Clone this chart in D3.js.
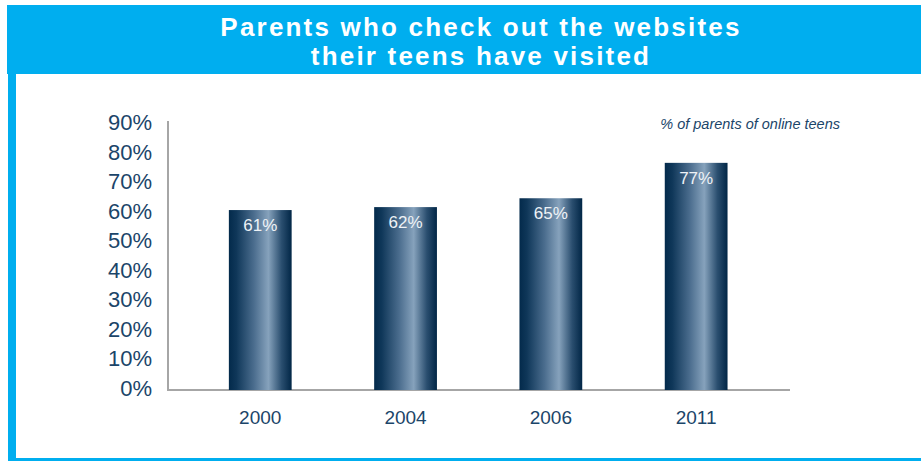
<!DOCTYPE html>
<html>
<head>
<meta charset="utf-8">
<script src="https://cdn.jsdelivr.net/npm/d3@7"></script>
<style>
  html, body { margin: 0; padding: 0; background: #fff; }
  svg { display: block; font-family: "Liberation Sans", Arial, Helvetica, sans-serif; }
</style>
</head>
<body>
<div id="chart"></div>
<script>
// data
const years = ["2000", "2004", "2006", "2011"];
const shares = [61, 62, 65, 77];
const yTicks = [0, 10, 20, 30, 40, 50, 60, 70, 80, 90];
const titleLines = ["Parents who check out the websites", "their teens have visited"];
const note = "% of parents of online teens";

const W = 921, H = 461;
const blue = "#00aeef";
const navy = "#1b4569";

const svg = d3.select("#chart").append("svg")
    .attr("width", W)
    .attr("height", H);

// gradient for the bars, dark edges with a light streak right of centre
const grad = svg.append("defs").append("linearGradient")
    .attr("id", "barGrad")
    .attr("x1", "0%").attr("x2", "100%")
    .attr("y1", "0%").attr("y2", "0%");
[[0, "#032a4b"], [0.12, "#0f3759"], [0.4, "#4b6d8e"], [0.63, "#86a2bc"], [0.84, "#2a4e6f"], [1, "#012646"]]
    .forEach(([o, c]) => grad.append("stop").attr("offset", o).attr("stop-color", c));

// frame: header band, left strip, bottom strip
svg.append("rect").attr("x", 7).attr("y", 5).attr("width", W - 7).attr("height", 69).attr("fill", blue);
svg.append("rect").attr("x", 8).attr("y", 70).attr("width", 8).attr("height", H - 70).attr("fill", blue);
svg.append("rect").attr("x", 8).attr("y", 458).attr("width", W - 8).attr("height", 3).attr("fill", blue);

svg.append("g")
    .selectAll("text")
    .data(titleLines)
    .join("text")
    .attr("x", 481)
    .attr("y", (d, i) => 36 + i * 29)
    .attr("text-anchor", "middle")
    .attr("fill", "#fff")
    .attr("font-weight", "bold")
    .attr("font-size", 26)
    .attr("letter-spacing", 2.2)
    .text(d => d);

// scales
const y = d3.scaleLinear().domain([0, 90]).range([390, 124.5]);
const x = d3.scaleBand()
    .domain(years)
    .range([187.6, 768.8])
    .paddingInner(0.568)
    .paddingOuter(0.284);

// y axis
const yAxis = d3.axisLeft(y)
    .tickValues(yTicks)
    .tickFormat(d => d + "%")
    .tickSize(0)
    .tickPadding(16);

const gy = svg.append("g")
    .attr("transform", "translate(168,0)")
    .call(yAxis);
gy.select(".domain").remove();
gy.selectAll("text")
    .attr("fill", navy)
    .attr("font-size", 22)
    .attr("font-family", "Liberation Sans, Arial, sans-serif")
    .attr("dy", "0.32em")
    .attr("y", -2);

// axis lines
svg.append("line")
    .attr("x1", 168).attr("x2", 168)
    .attr("y1", 121).attr("y2", 391)
    .attr("stroke", "#a6a6a6").attr("stroke-width", 2);
svg.append("line")
    .attr("x1", 167).attr("x2", 790)
    .attr("y1", 390).attr("y2", 390)
    .attr("stroke", "#a6a6a6").attr("stroke-width", 2);

// bars
const bars = svg.append("g");
bars.selectAll("rect")
    .data(shares)
    .join("rect")
    .attr("x", (d, i) => x(years[i]))
    .attr("y", d => y(d))
    .attr("width", x.bandwidth())
    .attr("height", d => y(0) - y(d))
    .attr("fill", "url(#barGrad)");

bars.selectAll("text")
    .data(shares)
    .join("text")
    .attr("x", (d, i) => x(years[i]) + x.bandwidth() / 2)
    .attr("y", d => y(d) + 21)
    .attr("text-anchor", "middle")
    .attr("fill", "#eef2f6")
    .attr("font-size", 17)
    .text(d => d + "%");

// x axis labels
const xAxis = d3.axisBottom(x).tickSize(0).tickPadding(21);
const gx = svg.append("g")
    .attr("transform", "translate(0,390)")
    .call(xAxis);
gx.select(".domain").remove();
gx.selectAll("text")
    .attr("fill", navy)
    .attr("font-size", 19)
    .attr("font-family", "Liberation Sans, Arial, sans-serif");

// note
svg.append("text")
    .attr("x", 840)
    .attr("y", 129)
    .attr("text-anchor", "end")
    .attr("fill", navy)
    .attr("font-style", "italic")
    .attr("font-size", 14.5)
    .text(note);
</script>
</body>
</html>
